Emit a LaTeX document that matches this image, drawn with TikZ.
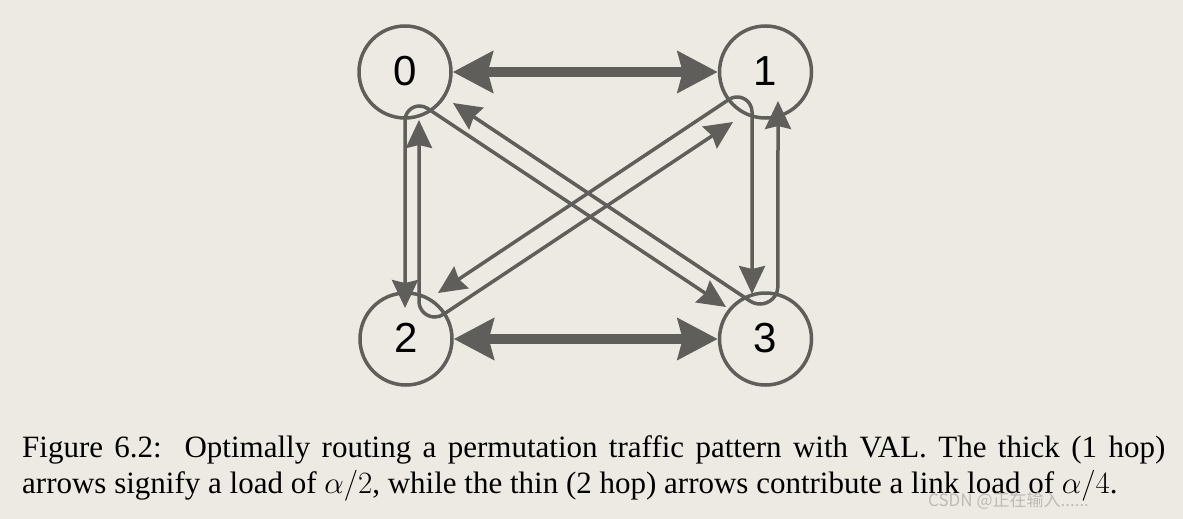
\RequirePackage{fix-cm}
\documentclass[tikz,border=0pt]{standalone}
\usepackage{fontspec}
\setmainfont{Liberation Serif}
\newfontfamily\numfont{Liberation Sans}
\newfontfamily\cjkfont{Noto Sans CJK SC}
\usetikzlibrary{arrows.meta}
\definecolor{bg}{HTML}{EDE9E3}
\definecolor{ln}{HTML}{5F5E5A}
\definecolor{wm}{HTML}{BEBBB6}
\begin{document}
\begin{tikzpicture}[x=1pt,y=1pt,
  vertex/.style={circle, draw=ln, line width=3.5pt, minimum size=92pt, inner sep=0pt,
    font=\numfont\fontsize{42}{42}\selectfont},
  bigarrow/.style={draw=ln, line width=10pt,
    {Stealth[length=40pt,width=41pt,inset=5pt]}-{Stealth[length=40pt,width=41pt,inset=5pt]}},
  smallarrow/.style={draw=ln, line width=3.5pt,
    {Stealth[length=28pt,width=26pt,inset=3pt]}-{Stealth[length=28pt,width=26pt,inset=3pt]}},
  captext/.style={anchor=base west, inner sep=0pt, font=\fontsize{31}{36}\selectfont},
]
\fill[bg] (0,0) rectangle (1183,-519);
\useasboundingbox (0,0) rectangle (1183,-519);

\node[vertex] (n0) at (405,-72) {\raisebox{2pt}{0}};
\node[vertex] (n1) at (765.5,-72) {\raisebox{2pt}{1}};
\node[vertex] (n2) at (406,-339) {\raisebox{2pt}{2}};
\node[vertex] (n3) at (765.5,-339) {\raisebox{2pt}{3}};

\draw[bigarrow] (n0) -- (n1);
\draw[bigarrow] (n2) -- (n3);

\coordinate (p0a) at (405,-308);
\coordinate (p0b) at (726,-307);
\coordinate (p1a) at (438,-293);
\coordinate (p1b) at (752,-294);
\coordinate (p2a) at (419,-120);
\coordinate (p2b) at (733,-122);
\coordinate (p3a) at (453,-103);
\coordinate (p3b) at (778,-101);

\draw[smallarrow] (p0a) -- (405,-120.5) arc[start angle=180,end angle=56.5,radius=14.5] -- (p0b);
\draw[smallarrow] (p1a) -- (728.9,-99.5) arc[start angle=123.6,end angle=0,radius=14.9] -- (p1b);
\draw[smallarrow] (p2a) -- (419,-301.3) arc[start angle=180,end angle=303.6,radius=15.7] -- (p2b);
\draw[smallarrow] (p3a) -- (750,-301) arc[start angle=236.4,end angle=360,radius=18] -- (p3b);

\node[captext] (cap1) at (22,-457) {\makebox[1143pt][s]{Figure 6.2:\ \ Optimally routing a permutation traffic pattern with VAL. The thick (1 hop)}};
\node[captext] (cap2) at (22,-493) {arrows signify a load of $\alpha/2$, while the thin (2 hop) arrows contribute a link load of $\alpha/4$.};

\node[anchor=base west, inner sep=0pt, text=wm, font=\cjkfont\fontsize{17}{17}\selectfont] (wmark) at (928,-506) {CSDN @正在输入......};
\end{tikzpicture}
\end{document}
